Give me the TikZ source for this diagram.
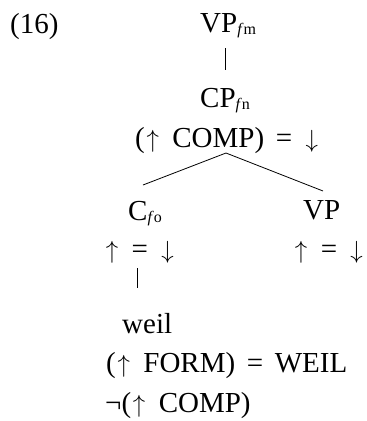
\documentclass[tikz,border=0pt]{standalone}
\usepackage{fontspec}
\setmainfont{Liberation Serif}
\usetikzlibrary{positioning}

% f-structure index as subscript
\newcommand{\fidx}[1]{\raisebox{-0.09em}{\fontsize{16bp}{16bp}\selectfont\textit{f}#1}}
% up and down arrows
\newcommand{\upa}{\makebox[0.55em]{$\uparrow$}}
\newcommand{\dna}{\makebox[0.55em]{$\downarrow$}}
% text size of the tree, wider word spaces
\newcommand{\treefont}{\fontsize{29bp}{37bp}\selectfont\spaceskip=0.4em plus 0.1em\relax}

\tikzset{
    lbl/.style={anchor=base west, inner sep=0pt, font=\treefont},
    branch/.style={line width=0.8bp}
}

\begin{document}
\begin{tikzpicture}[x=1bp, y=-1bp]
    \useasboundingbox (0,0) rectangle (367,421);

    \node[lbl] (ex) at (10,33) {(16)};

    % top of the tree
    \node[lbl] (vpfm) at (200,32) {VP\fidx{m}};
    \node[lbl] (cpfn) at (200,107) {CP\fidx{n}};
    \node[lbl] (cpeq) at (135,147) {(\upa{} COMP) = \dna};

    % daughters
    \node[lbl] (cfo) at (128,220) {C\fidx{o}};
    \node[lbl] (cfoeq) at (104,258) {\upa{} = \dna};
    \node[lbl] (vp) at (303,219) {VP};
    \node[lbl] (vpeq) at (293,258) {\upa{} = \dna};

    % lexical entry
    \node[lbl] (weil) at (122,333) {weil};
    \node[lbl] (weilform) at (106,372) {(\upa{} FORM) = WEIL};
    \node[lbl] (weilneg) at (105,412) {¬(\upa{} COMP)};

    \coordinate (vpfm-bot) at (225,48);
    \coordinate (cpfn-top) at (225,70);
    \coordinate (cpeq-bot) at (226,153);
    \coordinate (cfo-top) at (143,185);
    \coordinate (vp-top) at (323,191);
    \coordinate (cfo-bot) at (137,268);
    \coordinate (weil-top) at (137,288);

    \draw[branch] (vpfm-bot) -- (cpfn-top);
    \draw[branch] (cpeq-bot) -- (cfo-top);
    \draw[branch] (cpeq-bot) -- (vp-top);
    \draw[branch] (cfo-bot) -- (weil-top);
\end{tikzpicture}
\end{document}
